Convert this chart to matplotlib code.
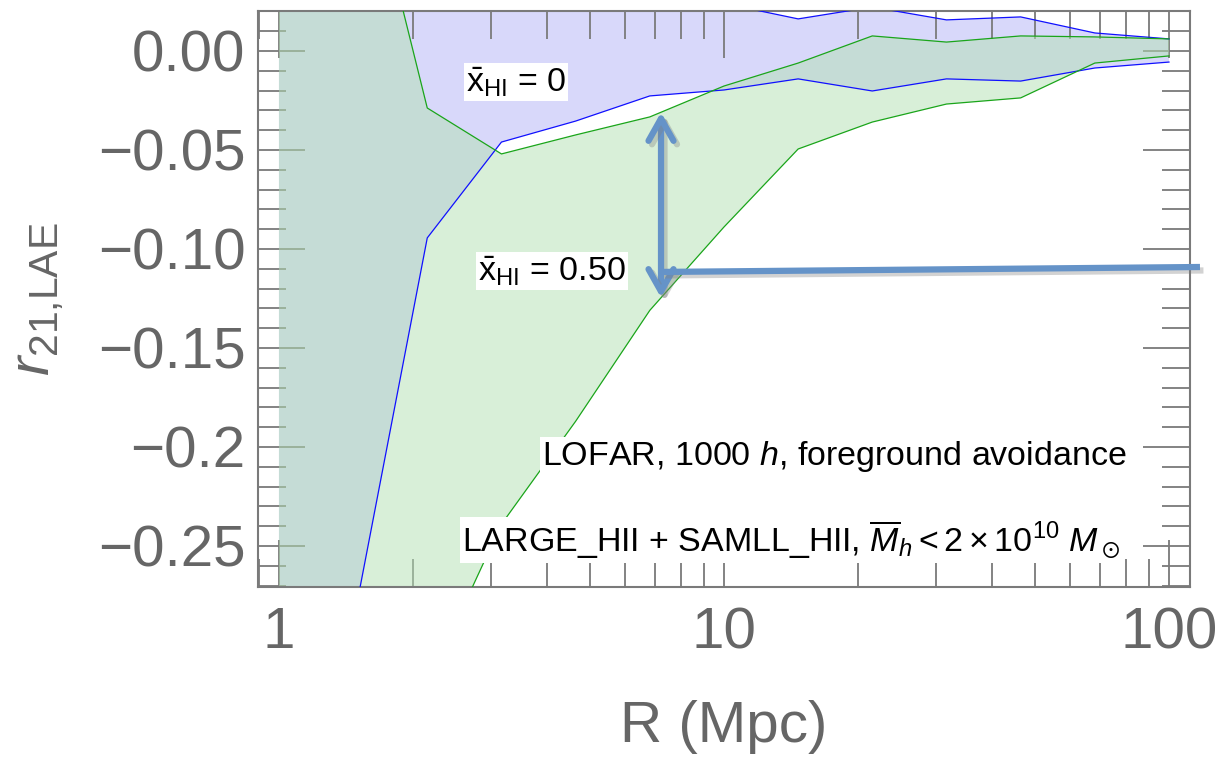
import numpy as np
import matplotlib
matplotlib.use("Agg")
import matplotlib.pyplot as plt
import matplotlib.patheffects as pe
from matplotlib.ticker import FixedLocator, FixedFormatter, LogLocator, NullFormatter, MultipleLocator

plt.rcParams['font.family'] = ['Liberation Sans', 'DejaVu Sans']
plt.rcParams['mathtext.fontset'] = 'custom'
plt.rcParams['mathtext.rm'] = 'Liberation Sans'
plt.rcParams['mathtext.it'] = 'Liberation Sans:italic'
plt.rcParams['mathtext.bf'] = 'Liberation Sans:bold'
plt.rcParams['mathtext.fallback'] = 'stixsans'

# smoothing scale R (Mpc), six samples per decade
R = np.array([1.0, 1.468, 2.154, 3.162, 4.642, 6.813, 10.0,
              14.68, 21.54, 31.62, 46.42, 68.13, 100.0])

# r_21,LAE range for xHI = 0
xhi0_lo = np.array([-0.60, -0.289, -0.0944, -0.046, -0.0354, -0.0227, -0.0197,
                    -0.0141, -0.0202, -0.0141, -0.0152, -0.0086, -0.0056])
xhi0_hi = np.array([0.30, 0.12, 0.06, 0.04, 0.033, 0.028, 0.024,
                    0.0162, 0.0222, 0.0157, 0.0172, 0.0091, 0.0061])

# r_21,LAE range for xHI = 0.50
xhi50_lo = np.array([-0.80, -0.50, -0.32, -0.239, -0.187, -0.131, -0.0889,
                     -0.0495, -0.0359, -0.0268, -0.0237, -0.0061, -0.0025])
xhi50_hi = np.array([0.35, 0.122, -0.0288, -0.052, -0.0424, -0.0333, -0.0177,
                     -0.0061, 0.0076, 0.0045, 0.0076, 0.0071, 0.0061])

yticks = [0.0, -0.05, -0.10, -0.15, -0.2, -0.25]
ytick_labels = ['0.00', '\u22120.05', '\u22120.10', '\u22120.15', '\u22120.2', '\u22120.25']
xticks = [1, 10, 100]
xtick_labels = ['1', '10', '100']

R_arrow = 7.22          # where the band width is marked
y_hline = [-0.1116, -0.1091]
R_hline_end = 117.4

gray = '#7a7a7a'
label_gray = '#666666'
arrow_col = '#6593c8'

fig = plt.figure(figsize=(12.22, 7.57), dpi=100)
ax = fig.add_axes([0.2111, 0.2246, 0.7627, 0.7609])

ax.fill_between(R, xhi0_lo, xhi0_hi, color='#d8d8fa', lw=0, zorder=1)
ax.fill_between(R, xhi50_lo, xhi50_hi, color='#b3e1b3', alpha=0.5, lw=0, zorder=2)
for lo, hi, c in [(xhi0_lo, xhi0_hi, '#1010ff'), (xhi50_lo, xhi50_hi, '#1aa51a')]:
    ax.plot(R, lo, color=c, lw=0.9, zorder=3)
    ax.plot(R, hi, color=c, lw=0.9, zorder=3)

ax.set_xscale('log')
ax.set_xlim(10 ** -0.0472, 10 ** 2.0472)
ax.set_ylim(-0.2707, 0.0202)

ax.xaxis.set_major_locator(FixedLocator(xticks))
ax.xaxis.set_major_formatter(FixedFormatter(xtick_labels))
ax.xaxis.set_minor_locator(LogLocator(base=10, subs=np.arange(2, 10), numticks=20))
ax.xaxis.set_minor_formatter(NullFormatter())
ax.yaxis.set_major_locator(FixedLocator(yticks))
ax.yaxis.set_major_formatter(FixedFormatter(ytick_labels))
ax.yaxis.set_minor_locator(MultipleLocator(0.01))

ax.tick_params(which='both', direction='in', top=True, right=True, color=gray, width=1.3)
ax.tick_params(which='major', length=34, labelsize=42, labelcolor=label_gray)
ax.tick_params(which='minor', length=20)
ax.tick_params(axis='y', which='major', pad=9)
ax.tick_params(axis='x', which='major', pad=14)
for sp in ax.spines.values():
    sp.set_color(gray)
    sp.set_linewidth(1.5)

ax.set_xlabel('R (Mpc)', fontsize=42, color=label_gray)
ax.set_ylabel(r'$r_{\text{21,LAE}}$', fontsize=42, color=label_gray)
ax.xaxis.set_label_coords(0.5, -0.197)
ax.yaxis.set_label_coords(-0.207, 0.5)

box = dict(facecolor='white', edgecolor='none', pad=1.5)
fs = 24.5
ax.text(3.41, -0.0157, r'$\bar{\mathrm{x}}_{\mathrm{HI}}$ = 0', fontsize=fs,
        ha='center', va='center', bbox=box, zorder=5)
ax.text(4.11, -0.111, r'$\bar{\mathrm{x}}_{\mathrm{HI}}$ = 0.50', fontsize=fs,
        ha='center', va='center', bbox=box, zorder=5)
ax.text(80.5, -0.205, r'LOFAR, 1000 $h$, foreground avoidance', fontsize=fs,
        ha='right', va='center', bbox=box, zorder=5)
ax.text(77.6, -0.247, r'LARGE_HII + SAMLL_HII, $\overline{M}_h < 2\times10^{10}\ M_\odot$',
        fontsize=fs, ha='right', va='center', bbox=box, zorder=5)

# arrow spanning the xHI = 0.50 band, plus the pointer line to the right
logR = np.log10(R)
y_top = np.interp(np.log10(R_arrow), logR, xhi50_hi)
y_bot = np.interp(np.log10(R_arrow), logR, xhi50_lo)
shadow = [pe.SimpleLineShadow(offset=(2.5, -2.5), shadow_color='gray', alpha=0.35), pe.Normal()]
ann = ax.annotate('', xy=(R_arrow, y_top), xytext=(R_arrow, y_bot),
                  arrowprops=dict(arrowstyle='<->,head_length=16,head_width=9',
                                  mutation_scale=1, color=arrow_col, lw=4.5,
                                  shrinkA=0, shrinkB=0, capstyle='round'),
                  zorder=6)
ann.arrow_patch.set_path_effects(shadow)
ax.plot([R_arrow, R_hline_end], y_hline, color=arrow_col, lw=4.5, clip_on=False,
        solid_capstyle='butt', zorder=6, path_effects=shadow)

fig.savefig('out.png', dpi=100)
